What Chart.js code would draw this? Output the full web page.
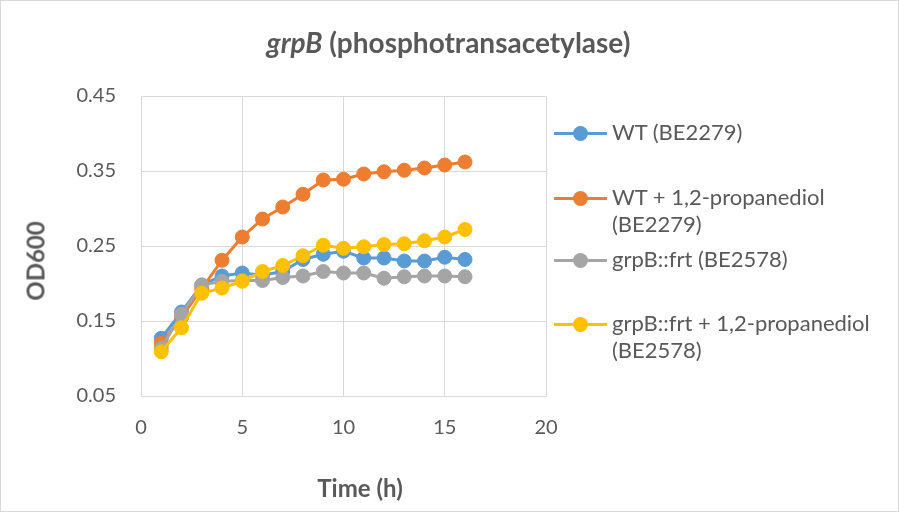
<!DOCTYPE html>
<html>
<head>
<meta charset="utf-8">
<script src="https://cdn.jsdelivr.net/npm/chart.js@4"></script>
<style>
  body { margin: 0; background: #fff; }
  #wrap { position: relative; width: 899px; height: 512px; box-sizing: border-box; border: 1px solid #d9d9d9; font-family: Lato, "Open Sans", sans-serif; color: #595959; }
  #chart { position: absolute; left: 0; top: 0; }
  #title { position: absolute; left: 0; width: 895px; top: 24px; text-align: center; font-size: 28px; font-weight: bold; line-height: normal; }
  .axtitle { position: absolute; font-size: 24px; font-weight: bold; white-space: nowrap; transform: translate(-50%, -50%); }
  #ytitle { left: 34px; top: 260px; transform: translate(-50%, -50%) rotate(-90deg); }
  #xtitle { left: 359px; top: 486px; }
  #legend { position: absolute; left: 553px; top: 0; font-size: 22px; }
  .item { position: absolute; left: 0; white-space: nowrap; }
  .mark { position: absolute; left: 0; top: -1.5px; width: 53px; height: 3px; }
  .mark span { position: absolute; left: 19px; top: -6px; width: 15px; height: 15px; border-radius: 50%; }
  .txt { position: absolute; left: 58px; top: -15px; line-height: 27px; }
</style>
</head>
<body>
<div id="wrap">
  <canvas id="chart" width="899" height="512"></canvas>
  <div id="title"><i>grpB</i> (phosphotransacetylase)</div>
  <div class="axtitle" id="ytitle">OD600</div>
  <div class="axtitle" id="xtitle">Time (h)</div>
  <div id="legend"></div>
</div>
<script>
// time points (h)
const hours = [1, 2, 3, 4, 5, 6, 7, 8, 9, 10, 11, 12, 13, 14, 15, 16];

const wt      = [0.127, 0.162, 0.198, 0.210, 0.214, 0.211, 0.216, 0.232, 0.239, 0.243, 0.234, 0.234, 0.230, 0.230, 0.235, 0.232];
const wtPdo   = [0.120, 0.155, 0.193, 0.231, 0.262, 0.286, 0.302, 0.319, 0.338, 0.339, 0.346, 0.349, 0.351, 0.354, 0.358, 0.362];
const grpB    = [0.114, 0.159, 0.198, 0.203, 0.204, 0.204, 0.208, 0.210, 0.216, 0.214, 0.214, 0.207, 0.209, 0.210, 0.210, 0.209];
const grpBPdo = [0.109, 0.141, 0.187, 0.194, 0.203, 0.216, 0.224, 0.237, 0.251, 0.247, 0.249, 0.252, 0.253, 0.257, 0.262, 0.272];

const labels = [
  ['WT (BE2279)'],
  ['WT + 1,2-propanediol', '(BE2279)'],
  ['grpB::frt (BE2578)'],
  ['grpB::frt + 1,2-propanediol', '(BE2578)']
];
const colors = ['#5b9bd5', '#ed7d31', '#a5a5a5', '#ffc000'];
const series = [wt, wtPdo, grpB, grpBPdo];

const xTicks = [0, 5, 10, 15, 20];
const yTicks = [0.05, 0.15, 0.25, 0.35, 0.45];

const datasets = series.map((vals, i) => ({
  label: labels[i].join(' '),
  data: vals.map((v, j) => ({ x: hours[j], y: v })),
  borderColor: colors[i],
  backgroundColor: colors[i],
  borderWidth: 3,
  pointRadius: 7,
  pointBorderWidth: 1,
  tension: 0,
  order: 4 - i  // last series drawn on top, like the original
}));

new Chart(document.getElementById('chart'), {
  type: 'line',
  data: { datasets: datasets },
  options: {
    responsive: false,
    animation: false,
    devicePixelRatio: 1,
    layout: { padding: { left: 10, top: 95, right: 354, bottom: 10 } },
    plugins: { legend: { display: false }, tooltip: { enabled: false }, title: { display: false } },
    scales: {
      x: {
        type: 'linear',
        min: 0, max: 20,
        afterBuildTicks: s => { s.ticks = xTicks.map(v => ({ value: v })); },
        afterFit: s => { s.height = 107; },
        grid: { color: '#d9d9d9', drawTicks: false },
        border: { color: '#d9d9d9' },
        ticks: { padding: 20, color: '#595959', font: { family: 'Lato', size: 20 } }
      },
      y: {
        min: 0.05, max: 0.45,
        afterBuildTicks: s => { s.ticks = yTicks.map(v => ({ value: v })); },
        afterFit: s => { s.width = 130; },
        grid: { color: '#d9d9d9', drawTicks: false },
        border: { color: '#d9d9d9' },
        ticks: { padding: 25, color: '#595959', font: { family: 'Lato', size: 20 }, callback: v => v.toFixed(2) }
      }
    }
  }
});

// legend built from the same labels/colours
const legendTops = [132, 197, 259, 323];
const legend = document.getElementById('legend');
labels.forEach((lines, i) => {
  const item = document.createElement('div');
  item.className = 'item';
  item.style.top = legendTops[i] + 'px';
  item.innerHTML = '<div class="mark" style="background:' + colors[i] + '"><span style="background:' + colors[i] + '"></span></div>' +
    '<div class="txt">' + lines.join('<br>') + '</div>';
  legend.appendChild(item);
});
</script>
</body>
</html>
